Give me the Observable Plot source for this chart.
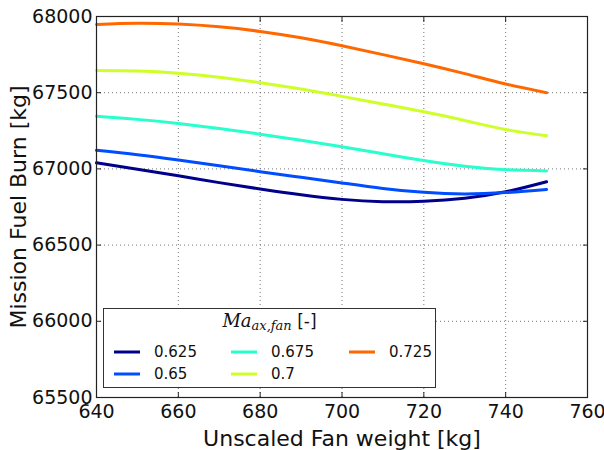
<!DOCTYPE html>
<html>
<head>
<meta charset="utf-8">
<script src="https://cdn.jsdelivr.net/npm/d3@7"></script>
<script src="https://cdn.jsdelivr.net/npm/@observablehq/plot@0.6"></script>
<style>
  body { margin: 0; background: #fff; }
  #wrap { position: relative; width: 604px; height: 450px; font-family: "DejaVu Sans", sans-serif; }
  #legend { position: absolute; left: 103px; top: 308px; width: 333px; height: 80px; border: 1px solid #333; background: #fff; box-sizing: border-box; }
  #legend .title { position: absolute; left: 0; width: 100%; top: 1px; text-align: center; font-size: 17px; color: #111; }
  #legend .title .m { font-family: "DejaVu Serif", serif; font-style: italic; font-size: 18px; }
  #legend .title sub { font-family: "DejaVu Serif", serif; font-style: italic; font-size: 13px; vertical-align: -3px; }
  #legend .item { position: absolute; font-size: 15px; color: #111; line-height: 18px; }
  #legend .item svg { position: absolute; left: -40px; top: 7px; }
</style>
</head>
<body>
<div id="wrap"><div id="chart"></div><div id="legend"></div></div>
<script>
const fanWeight = [640, 650, 660, 670, 680, 690, 700, 710, 720, 730, 740, 750];
const machLabels = ["0.625", "0.65", "0.675", "0.7", "0.725"];
const colors = ["#00008a", "#004cff", "#29ffce", "#ceff29", "#ff6800"];
const fb0625 = [67040, 66998, 66955, 66910, 66868, 66830, 66800, 66785, 66788, 66808, 66850, 66916];
const fb0650 = [67122, 67093, 67058, 67020, 66982, 66945, 66908, 66872, 66846, 66836, 66845, 66865];
const fb0675 = [67345, 67325, 67298, 67265, 67228, 67188, 67146, 67100, 67055, 67018, 66995, 66987];
const fb0700 = [67645, 67642, 67628, 67602, 67566, 67524, 67476, 67426, 67375, 67318, 67258, 67218];
const fb0725 = [67948, 67955, 67950, 67932, 67902, 67860, 67808, 67750, 67690, 67625, 67557, 67500];
const xTicks = [640, 660, 680, 700, 720, 740, 760];
const yTicks = [65500, 66000, 66500, 67000, 67500, 68000];

const series = [fb0625, fb0650, fb0675, fb0700, fb0725];
const rows = [];
series.forEach((s, i) => s.forEach((v, j) => rows.push({w: fanWeight[j], fb: v, mach: machLabels[i]})));

const noText = () => "";
const plot = Plot.plot({
  width: 604,
  height: 450,
  marginLeft: 96,
  marginRight: 17,
  marginTop: 16,
  marginBottom: 53,
  style: {fontFamily: "DejaVu Sans, sans-serif", background: "#fff", color: "#111"},
  x: {domain: [640, 760], ticks: xTicks},
  y: {domain: [65500, 68000], ticks: yTicks},
  color: {domain: machLabels, range: colors},
  marks: [
    Plot.gridX(xTicks.slice(1, -1), {stroke: "#555", strokeOpacity: 0.8, strokeDasharray: "1,3"}),
    Plot.gridY(yTicks.slice(1, -1), {stroke: "#555", strokeOpacity: 0.8, strokeDasharray: "1,3"}),
    Plot.line(rows, {x: "w", y: "fb", z: "mach", stroke: "mach", strokeWidth: 3, curve: "natural"}),
    Plot.axisX({ticks: xTicks, tickSize: 0, tickPadding: 7, fontSize: 19, tickFormat: d => String(d), label: "Unscaled Fan weight [kg]", labelAnchor: "center", labelArrow: "none", labelOffset: 48}),
    Plot.axisX({ticks: xTicks, anchor: "bottom", tickSize: -5, tickFormat: noText, label: null, stroke: "#222"}),
    Plot.axisX({ticks: xTicks, anchor: "top", tickSize: -5, tickFormat: noText, label: null, stroke: "#222"}),
    Plot.axisY({ticks: yTicks, tickSize: 0, tickPadding: 4, fontSize: 19, tickFormat: d => String(d), label: "Mission Fuel Burn [kg]", labelAnchor: "center", labelArrow: "none", labelOffset: 86}),
    Plot.axisY({ticks: yTicks, anchor: "left", tickSize: -5, tickFormat: noText, label: null, stroke: "#222"}),
    Plot.axisY({ticks: yTicks, anchor: "right", tickSize: -5, tickFormat: noText, label: null, stroke: "#222"}),
    Plot.frame({stroke: "#222", strokeWidth: 1.2})
  ]
});
document.getElementById("chart").appendChild(plot);

// enlarge axis labels
plot.querySelectorAll("[aria-label='x-axis label'] text, [aria-label='y-axis label'] text").forEach(t => t.setAttribute("font-size", "22"));

// legend
const legend = document.getElementById("legend");
legend.innerHTML = `<div class="title"><span class="m">Ma</span><sub>ax,fan</sub> [-]</div>`;
const pos = [[50, 34], [50, 56], [167, 34], [167, 56], [285, 34]];
machLabels.forEach((m, i) => {
  const d = document.createElement("div");
  d.className = "item";
  d.style.left = pos[i][0] + "px";
  d.style.top = pos[i][1] + "px";
  d.innerHTML = `<svg width="26" height="4"><line x1="0" x2="26" y1="2" y2="2" stroke="${colors[i]}" stroke-width="3"/></svg>${m}`;
  legend.appendChild(d);
});
</script>
</body>
</html>
